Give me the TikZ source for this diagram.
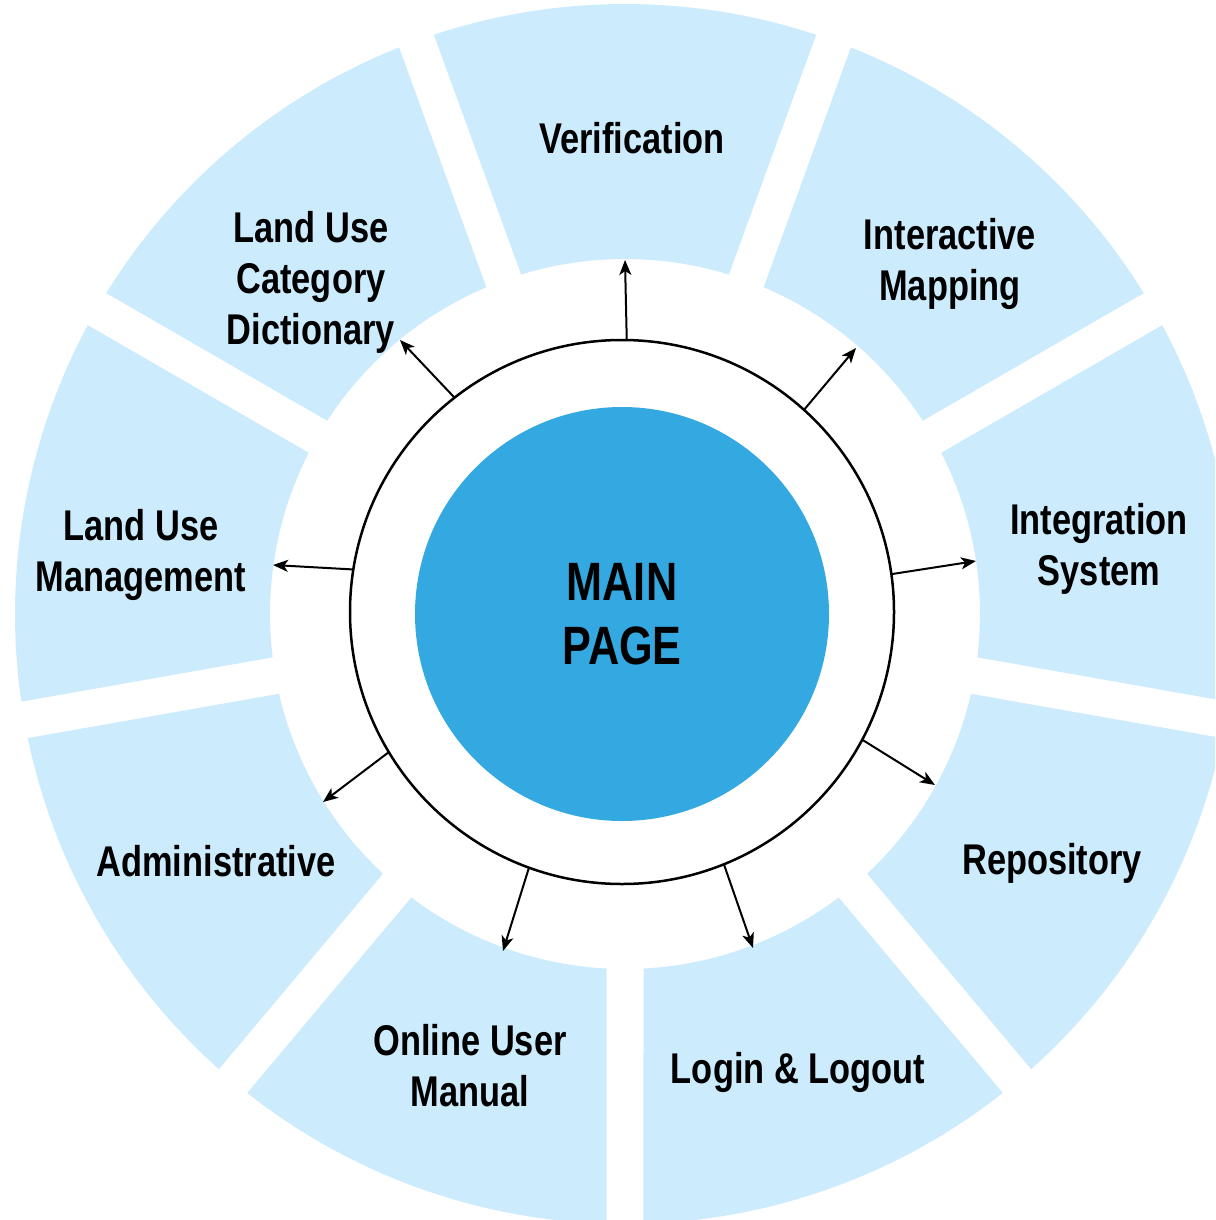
\documentclass[tikz,border=0pt]{standalone}
\usepackage{fontspec}
\newfontfamily\lblfont[FakeStretch=0.8]{Liberation Sans}
\usetikzlibrary{arrows.meta}
\definecolor{segblue}{HTML}{CCEBFD}
\definecolor{mainblue}{HTML}{34A8E0}
\begin{document}
\begin{tikzpicture}[x=1pt,y=1pt,
  lbl/.style={font=\lblfont\bfseries\fontsize{43}{51}\selectfont, align=center, inner sep=0pt, text=black},
  conn/.style={line width=2pt, -{Stealth[length=15pt,width=12pt,inset=4pt]}}]
\clip (0,0) rectangle (1215,-1220);
% ring of segments
\begin{scope}[shift={(625,-614)}]
\foreach \t in {90,130,...,410} {
  \pgfmathsetmacro{\ao}{\t+20-1.738}
  \pgfmathsetmacro{\bo}{\t-20+1.738}
  \pgfmathsetmacro{\bi}{\t-20+2.987}
  \pgfmathsetmacro{\ai}{\t+20-2.987}
  \fill[segblue] (\ao:610) arc[start angle=\ao, end angle=\bo, radius=610]
    -- (\bi:355) arc[start angle=\bi, end angle=\ai, radius=355] -- cycle;
}
\end{scope}
% black ring and main circle
\node[circle, draw=black, line width=2.5pt, minimum size=544pt, inner sep=0pt, outer sep=0pt] (ring) at (622,-612) {};
\node[circle, fill=mainblue, minimum size=414pt, inner sep=0pt,
  font=\lblfont\bfseries\fontsize{54}{64}\selectfont, align=center] (main) at (622,-614) {MAIN\\PAGE};
% labels
\node[lbl] (ver) at (632,-138) {Verification};
\node[lbl] (imap) at (950,-264) {Interactive\\Mapping};
\node[lbl] (isys) at (1099,-549) {Integration\\System};
\node[lbl] (repo) at (1052,-863) {Repository};
\node[lbl] (login) at (798,-1072) {Login \& Logout};
\node[lbl] (oum) at (470,-1066) {Online User\\Manual};
\node[lbl] (adm) at (216,-861) {Administrative};
\node[lbl] (lum) at (141,-555) {Land Use\\Management};
\node[lbl] (lucd) at (311,-282) {Land Use\\Category\\Dictionary};
% arrow tips
\coordinate (tver) at (625,-260);
\coordinate (timap) at (856,-348);
\coordinate (tisys) at (976,-561);
\coordinate (trepo) at (935,-785);
\coordinate (tlogin) at (753,-948);
\coordinate (toum) at (503,-951);
\coordinate (tadm) at (323,-802);
\coordinate (tlum) at (273,-565);
\coordinate (tlucd) at (400,-340);
\draw[conn] (ring.89.4) -- (tver);
\draw[conn] (ring.48.6) -- (timap);
\draw[conn] (ring.8.2) -- (tisys);
\draw[conn] (ring.-28.7) -- (trepo);
\draw[conn] (ring.-68.8) -- (tlogin);
\draw[conn] (ring.250.2) -- (toum);
\draw[conn] (ring.211.9) -- (tadm);
\draw[conn] (ring.171.6) -- (tlum);
\draw[conn] (ring.128.2) -- (tlucd);
\end{tikzpicture}
\end{document}
